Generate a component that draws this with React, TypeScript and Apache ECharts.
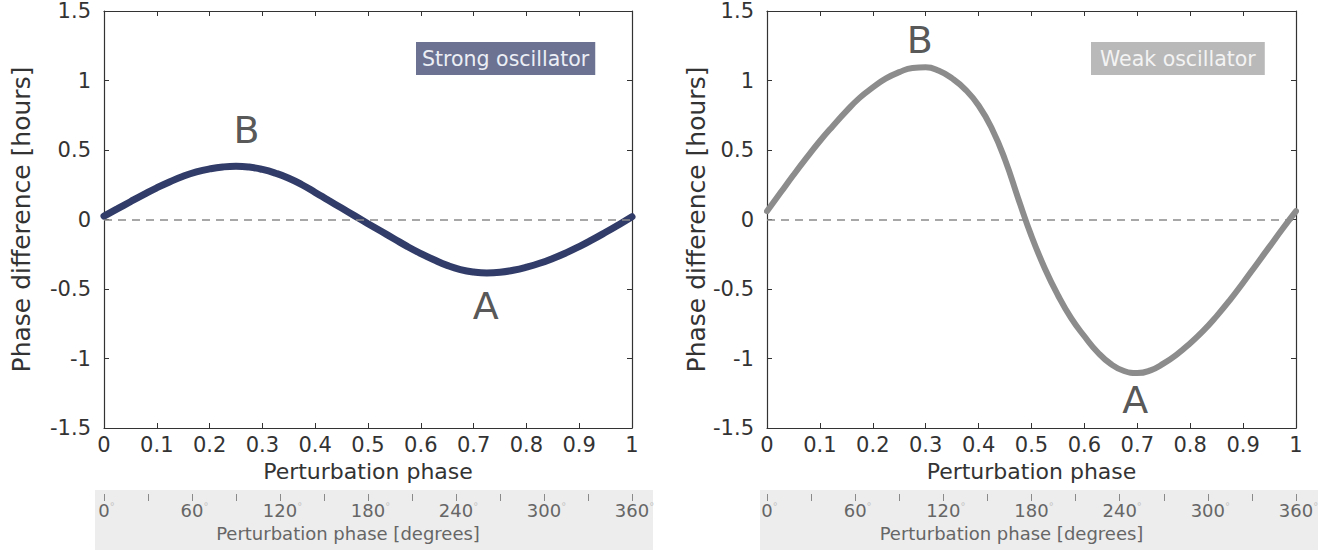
import React, { useEffect, useRef } from "react";
import * as echarts from "echarts";

// Perturbation phase (fraction of cycle)
const phase = [
  0, 0.025, 0.05, 0.075, 0.1, 0.125, 0.15, 0.175, 0.2, 0.225, 0.25, 0.275, 0.3, 0.325, 0.35, 0.375, 0.4,
  0.425, 0.45, 0.475, 0.5, 0.525, 0.55, 0.575, 0.6, 0.625, 0.65, 0.675, 0.7, 0.725, 0.75, 0.775, 0.8,
  0.825, 0.85, 0.875, 0.9, 0.925, 0.95, 0.975, 1,
];
// Phase difference [hours], strong oscillator
const strongDiff = [
  0.024, 0.076, 0.128, 0.179, 0.228, 0.272, 0.311, 0.342, 0.364, 0.378, 0.383, 0.377, 0.36, 0.333, 0.297,
  0.25, 0.195, 0.138, 0.082, 0.026, -0.03, -0.085, -0.14, -0.195, -0.245, -0.29, -0.33, -0.36, -0.378,
  -0.385, -0.38, -0.365, -0.343, -0.315, -0.28, -0.24, -0.195, -0.145, -0.092, -0.037, 0.02,
];
// Phase difference [hours], weak oscillator
const weakDiff = [
  0.06, 0.19, 0.32, 0.445, 0.565, 0.675, 0.78, 0.875, 0.95, 1.015, 1.06, 1.09, 1.095, 1.07, 1.015, 0.935,
  0.82, 0.655, 0.43, 0.15, -0.12, -0.35, -0.545, -0.71, -0.84, -0.955, -1.04, -1.09, -1.105, -1.085, -1.035,
  -0.97, -0.89, -0.8, -0.695, -0.58, -0.455, -0.325, -0.195, -0.065, 0.06,
];

// Annotation letters (data coordinates)
const strongLetters = [
  { name: "B", value: [0.27, 0.645] },
  { name: "A", value: [0.723, -0.62] },
];
const weakLetters = [
  { name: "B", value: [0.289, 1.29] },
  { name: "A", value: [0.696, -1.3] },
];

const panelTitles = ["Strong oscillator", "Weak oscillator"];
const xName = "Perturbation phase";
const yName = "Phase difference [hours]";
const degName = "Perturbation phase [degrees]";

const FONT = "DejaVu Sans";
const INK = "#333333";

export default function App() {
  const ref = useRef<HTMLDivElement>(null);

  useEffect(() => {
    if (!ref.current) return;
    const chart = echarts.init(ref.current, null, { renderer: "svg" });

    const grids = [
      { left: 104, top: 11, width: 528, height: 417 },
      { left: 767, top: 11, width: 529, height: 417 },
    ];
    const yGaps = [70, 42];

    const frameLine = { show: true, onZero: false, lineStyle: { color: INK, width: 1.2 } };
    const frameTick = { show: true, inside: true, length: 5, lineStyle: { color: INK } };

    const xAxes: any[] = [];
    const yAxes: any[] = [];
    grids.forEach((g, i) => {
      xAxes.push({
        type: "value",
        gridIndex: i,
        position: "bottom",
        min: 0,
        max: 1,
        interval: 0.1,
        name: xName,
        nameLocation: "middle",
        nameGap: 32,
        nameTextStyle: { fontFamily: FONT, fontSize: 22, color: INK },
        axisLine: frameLine,
        axisTick: frameTick,
        axisLabel: { fontFamily: FONT, fontSize: 21, color: INK, margin: 6 },
        splitLine: { show: false },
      });
      xAxes.push({
        type: "value",
        gridIndex: i,
        position: "top",
        min: 0,
        max: 1,
        interval: 0.1,
        axisLine: frameLine,
        axisTick: frameTick,
        axisLabel: { show: false },
        splitLine: { show: false },
      });
      xAxes.push({
        type: "value",
        gridIndex: i,
        position: "bottom",
        offset: 66,
        min: 0,
        max: 360,
        interval: 30,
        name: degName,
        nameLocation: "middle",
        nameGap: 30,
        nameTextStyle: { fontFamily: FONT, fontSize: 18, color: "#666666", padding: [0, 40, 0, 0] },
        axisLine: { show: false, onZero: false },
        axisTick: { show: true, inside: false, length: 7, lineStyle: { color: "#8a8a8a" } },
        axisLabel: {
          margin: 7,
          fontFamily: FONT,
          fontSize: 18,
          color: "#666666",
          formatter: (v: number) => (v % 60 === 0 ? `{s|°}{n|${v}}{d|°}` : ""),
          rich: {
            n: { fontFamily: FONT, fontSize: 18, color: "#666666" },
            d: { fontFamily: FONT, fontSize: 10, color: "#c4c4c4", verticalAlign: "top", padding: [0, 0, 8, 0] },
            s: { fontFamily: FONT, fontSize: 10, color: "rgba(0,0,0,0)", verticalAlign: "top", padding: [0, 0, 8, 0] },
          },
        },
        splitLine: { show: false },
      });
      yAxes.push({
        type: "value",
        gridIndex: i,
        position: "left",
        min: -1.5,
        max: 1.5,
        interval: 0.5,
        name: yName,
        nameLocation: "middle",
        nameGap: yGaps[i],
        nameTextStyle: { fontFamily: FONT, fontSize: 25, color: INK },
        axisLine: frameLine,
        axisTick: frameTick,
        axisLabel: { fontFamily: FONT, fontSize: 21, color: INK, margin: 13 },
        splitLine: { show: false },
      });
      yAxes.push({
        type: "value",
        gridIndex: i,
        position: "right",
        min: -1.5,
        max: 1.5,
        interval: 0.5,
        axisLine: frameLine,
        axisTick: frameTick,
        axisLabel: { show: false },
        splitLine: { show: false },
      });
    });

    const zeroLine = {
      silent: true,
      symbol: ["none", "none"],
      label: { show: false },
      lineStyle: { color: "#8a8a8a", type: [8, 6], width: 1.5 },
      data: [{ yAxis: 0 }],
    };

    const letterSeries = (data: any[], xi: number, yi: number) => ({
      type: "scatter",
      xAxisIndex: xi,
      yAxisIndex: yi,
      symbolSize: 1,
      itemStyle: { color: "rgba(0,0,0,0)" },
      silent: true,
      label: {
        show: true,
        position: "inside",
        formatter: "{b}",
        fontFamily: FONT,
        fontSize: 38,
        color: "#2b2b2b",
      },
      data,
    });

    const option: any = {
      animation: false,
      backgroundColor: "#ffffff",
      title: [
        {
          text: panelTitles[0],
          left: 416,
          top: 42,
          padding: [6, 6, 6, 6],
          backgroundColor: "#6b7292",
          textStyle: { fontFamily: FONT, fontSize: 20.5, fontWeight: "normal", color: "#eceef5" },
        },
        {
          text: panelTitles[1],
          left: 1091,
          top: 42,
          padding: [6, 9, 6, 9],
          backgroundColor: "#b9b9b9",
          textStyle: { fontFamily: FONT, fontSize: 20.5, fontWeight: "normal", color: "#f3f3f3" },
        },
      ],
      graphic: [
        { type: "rect", z: -1, shape: { x: 95, y: 490, width: 558, height: 60 }, style: { fill: "#ededed" } },
        { type: "rect", z: -1, shape: { x: 760, y: 490, width: 558, height: 60 }, style: { fill: "#ededed" } },
      ],
      grid: grids,
      xAxis: xAxes,
      yAxis: yAxes,
      series: [
        {
          type: "line",
          xAxisIndex: 0,
          yAxisIndex: 0,
          data: phase.map((x, i) => [x, strongDiff[i]]),
          smooth: 0.5,
          symbol: "none",
          lineStyle: { color: "#323c68", width: 7, cap: "round" },
          markLine: zeroLine,
          z: 3,
        },
        {
          type: "line",
          xAxisIndex: 3,
          yAxisIndex: 2,
          data: phase.map((x, i) => [x, weakDiff[i]]),
          smooth: 0.5,
          symbol: "none",
          lineStyle: { color: "#8c8c8c", width: 6, cap: "round" },
          markLine: zeroLine,
          z: 3,
        },
        letterSeries(strongLetters, 0, 0),
        letterSeries(weakLetters, 3, 2),
      ],
    };

    chart.setOption(option);
    return () => chart.dispose();
  }, []);

  return (
    <div
      ref={ref}
      style={{ position: "absolute", left: 0, top: 0, width: 1326, height: 550 }}
    />
  );
}
